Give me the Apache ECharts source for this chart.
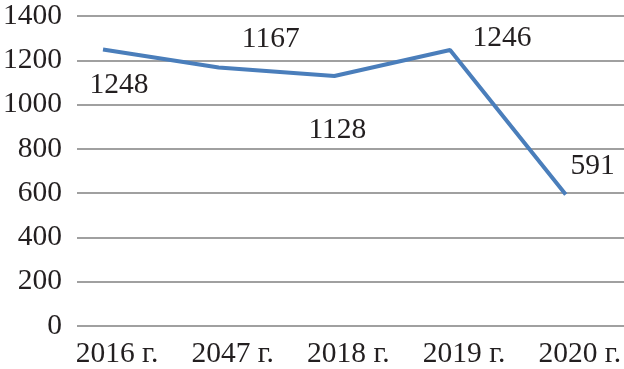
<!DOCTYPE html>
<html>
<head>
<meta charset="utf-8">
<script src="https://cdn.jsdelivr.net/npm/echarts@6/dist/echarts.min.js"></script>
<style>html,body{margin:0;padding:0;background:#fff}#c{width:624px;height:369px}</style>
</head>
<body>
<div id="c"></div>
<script>
const categories = ["2016 г.", "2047 г.", "2018 г.", "2019 г.", "2020 г."];
const values = [1248, 1167, 1128, 1246, 591];
const yTicks = [0, 200, 400, 600, 800, 1000, 1200, 1400];

// label placement offsets (layout only)
const labelOffsets = [[16, 36], [52, -28], [3, 54], [52, -12], [27, -28]];

const FONT = '"Liberation Serif", "Times New Roman", serif';
const TXT = '#231f20';
const FS = 29.5;
const chart = echarts.init(document.getElementById('c'), null, {renderer: 'canvas'});
chart.setOption({
  animation: false,
  grid: [
    {left: 75, right: 0, top: 16, bottom: 43},
    {left: 103, right: 58, top: 16, bottom: 43}
  ],
  xAxis: [
    {gridIndex: 0, type: 'category', data: categories, show: false},
    {gridIndex: 1, type: 'category', data: categories, boundaryGap: false,
     axisLine: {show: false}, axisTick: {show: false},
     axisLabel: {color: TXT, fontFamily: FONT, fontSize: FS, margin: 14, padding: [0, 0, 0, 28]}}
  ],
  yAxis: [
    {gridIndex: 0, type: 'value', min: yTicks[0], max: yTicks[yTicks.length - 1], interval: 200,
     axisLine: {show: false}, axisTick: {show: false},
     axisLabel: {color: TXT, fontFamily: FONT, fontSize: FS, margin: 15, formatter: v => String(v)},
     splitLine: {lineStyle: {color: '#808080', width: 1.6}}},
    {gridIndex: 1, type: 'value', min: yTicks[0], max: yTicks[yTicks.length - 1], interval: 200, show: false}
  ],
  series: [{
    type: 'line', xAxisIndex: 1, yAxisIndex: 1,
    data: values.map((v, i) => ({value: v, label: {offset: labelOffsets[i]}})),
    symbol: 'circle', symbolSize: 0.1, showSymbol: true,
    lineStyle: {color: '#4a7ebb', width: 4},
    itemStyle: {color: '#4a7ebb'},
    label: {show: true, position: 'inside', color: TXT, fontFamily: FONT, fontSize: FS,
            align: 'center', verticalAlign: 'middle'}
  }]
});
</script>
</body>
</html>
